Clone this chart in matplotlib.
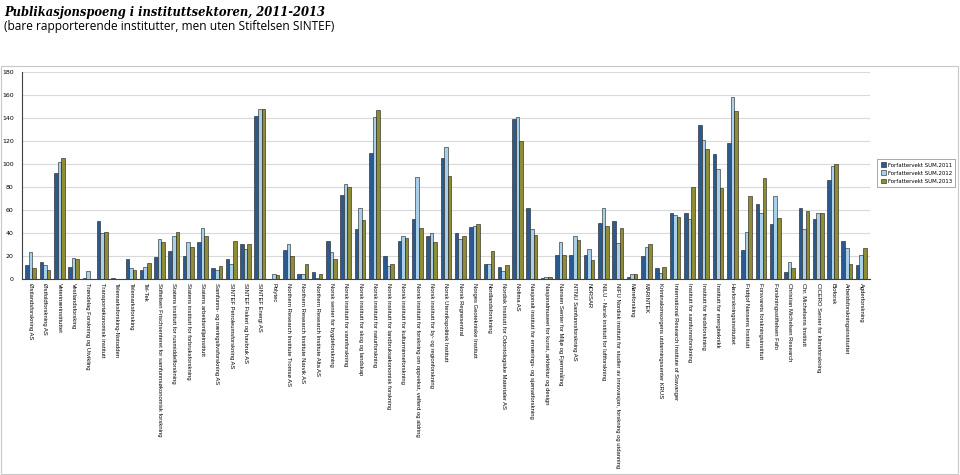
import matplotlib.pyplot as plt
import matplotlib.patches as mpatches
import numpy as np

# --- data ---
institutter = [
    'Østlandsforskning AS', 'Østfoldforskning AS', 'Veterinærinstituttet', 'Vestlandsforsking',
    'Trøndelag Forskning og Utvikling', 'Transportøkonomisk institutt', 'Telemarksforsking-Notodden',
    'Telemarksforsking', 'Tel-Tek', 'Stiftelsen Frischsenteret for samfunnsøkonomisk forskning',
    'Statens institutt for rusmiddelforskning', 'Statens institutt for forbruksforskning',
    'Statens arbeidsmiljøinstitutt', 'Samfunns- og næringslivsforskning AS',
    'SINTEF Petroleumsforskning AS', 'SINTEF Fiskeri og havbruk AS', 'SINTEF Energi AS', 'Polytec',
    'Northern Research Institute Tromsø AS', 'Northern Research Institute Narvik AS',
    'Northern Research Institute Alta AS', 'Norsk senter for bygdeforskning',
    'Norsk institutt for vannforskning', 'Norsk institutt for skog og landskap',
    'Norsk institutt for naturforskning', 'Norsk institutt for landbruksøkonomisk forskning',
    'Norsk institutt for kulturminneforskning',
    'Norsk institutt for forskning om oppvekst, velferd og aldring',
    'Norsk institutt for by- og regionforskning', 'Norsk Utenrikspolitisk Institutt',
    'Norsk Regnesentral', 'Norges Geotekniske Institutt', 'Nordlandsforskning',
    'Nordisk Institutt for Odontologiske Materialer AS', 'Nofima AS',
    'Nasjonalt institutt for ernærings- og sjømatforskning',
    'Nasjonalmuseet for kunst, arkitektur og design', 'Nansen Senter for Miljø og Fjernmåling',
    'NTNU Samfunnsforskning AS', 'NORSAR', 'NILU - Norsk institutt for luftforskning',
    'NIFU Nordisk institutt for studier av innovasjon, forskning og utdanning', 'Møreforsking',
    'MARINTEK', 'Kriminalomsorgens utdanningssenter KRUS',
    'International Research Institute of Stavanger', 'Institutt for samfunnsforskning',
    'Institutt for fredsforskning', 'Institutt for energiteknikk', 'Havforskningsinstituttet',
    'Fridtjof Nansens Institutt', 'Forsvarets forskningsinstitutt', 'Forskningsstiftelsen Fafo',
    'Christian Michelsen Research', 'Chr. Michelsens Institutt', 'CICERO Senter for klimaforskning',
    'Bioforsk', 'Arbeidsforskningsinstituttet', 'Agderforskning',
]

sum_2011 = [12, 15, 92, 10, 1, 50, 0.5, 17, 8, 19,
            24, 20, 32, 9, 17, 30, 142, 0, 25, 4,
            6, 33, 73, 43, 110, 20, 33, 52, 37, 105,
            40, 45, 13, 10, 139, 62, 0.5, 21, 21, 21,
            49, 50, 2, 20, 9, 57, 57, 134, 109, 118,
            25, 65, 48, 6, 62, 52, 86, 33, 12]
sum_2012 = [23, 12, 102, 18, 7, 40, 0, 9, 10, 35,
            37, 32, 44, 8, 13, 26, 148, 4.5, 30, 4,
            1, 23, 83, 62, 141, 11, 37, 89, 40, 115,
            35, 46, 13, 6.5, 141, 43, 2, 32, 37, 26,
            62, 31, 4, 28, 5, 56, 52, 121, 96, 158,
            41, 57, 72, 15, 43, 57, 98, 27, 21]
sum_2013 = [9, 8, 105, 17, 0, 41, 0, 8, 14, 32,
            41, 28, 37, 11, 33, 30, 148, 3.5, 20, 13,
            4, 17, 80, 51, 147, 13, 36, 44, 32, 90,
            37, 48, 24, 12, 120, 38, 2, 21, 34, 16,
            46, 44, 4, 30, 10.5, 54, 80, 113, 79, 146,
            72, 88, 53, 9, 59, 57, 100, 13, 27]

serier = ['Forfattervekt SUM,2011', 'Forfattervekt SUM,2012', 'Forfattervekt SUM,2013']
farger = ['#2b5b8e', '#a9d0ea', '#8e8c34']

fig = plt.figure(figsize=(9.6, 4.75), dpi=100)
fig.patch.set_facecolor('white')

# titles
fig.text(0.004, 0.988, 'Publikasjonspoeng i instituttsektoren, 2011-2013', ha='left', va='top',
         fontsize=8.3, fontweight='bold', fontstyle='italic', family='DejaVu Serif')
fig.text(0.004, 0.958, '(bare rapporterende institutter, men uten Stiftelsen SINTEF)', ha='left',
         va='top', fontsize=8.6, family='Open Sans')

# chart border
fig.patches.append(mpatches.Rectangle((0.001, 0.003), 0.997, 0.858, transform=fig.transFigure,
                                      fill=False, edgecolor='#c8c8c8', linewidth=0.8))

ax = fig.add_axes([0.023, 0.413, 0.883, 0.435])
x = np.arange(len(institutter))
w = 0.25
for i, (vals, farge, navn) in enumerate(zip([sum_2011, sum_2012, sum_2013], farger, serier)):
    ax.bar(x + (i - 1) * w, vals, w, color=farge, edgecolor='#1a1a1a', linewidth=0.4, label=navn)

ax.set_xlim(-0.6, len(institutter) - 0.4)
ax.set_ylim(0, 180)
ax.set_yticks(np.arange(0, 181, 20))
ax.tick_params(axis='y', labelsize=4.5, length=0, pad=6)
ax.grid(axis='y', color='#d9d9d9', linewidth=0.8)
ax.set_axisbelow(True)

ax.set_xticks(x)
ax.set_xticklabels(institutter, rotation=270, fontsize=4.2, family='Liberation Sans', ha='center', va='top')
ax.tick_params(axis='x', length=0, pad=3)

for s in ['top', 'right']:
    ax.spines[s].set_visible(False)
ax.spines['left'].set_color('#404040')
ax.spines['bottom'].set_color('#404040')

leg = fig.legend(loc='upper left', bbox_to_anchor=(0.914, 0.665), fontsize=3.9, frameon=True,
                 fancybox=False, edgecolor='#808080', handlelength=0.9, handleheight=0.9,
                 borderpad=0.6, labelspacing=0.55, handletextpad=0.4, borderaxespad=0)
leg.get_frame().set_linewidth(0.6)

fig.savefig('out.png', dpi=100, facecolor=fig.get_facecolor())
